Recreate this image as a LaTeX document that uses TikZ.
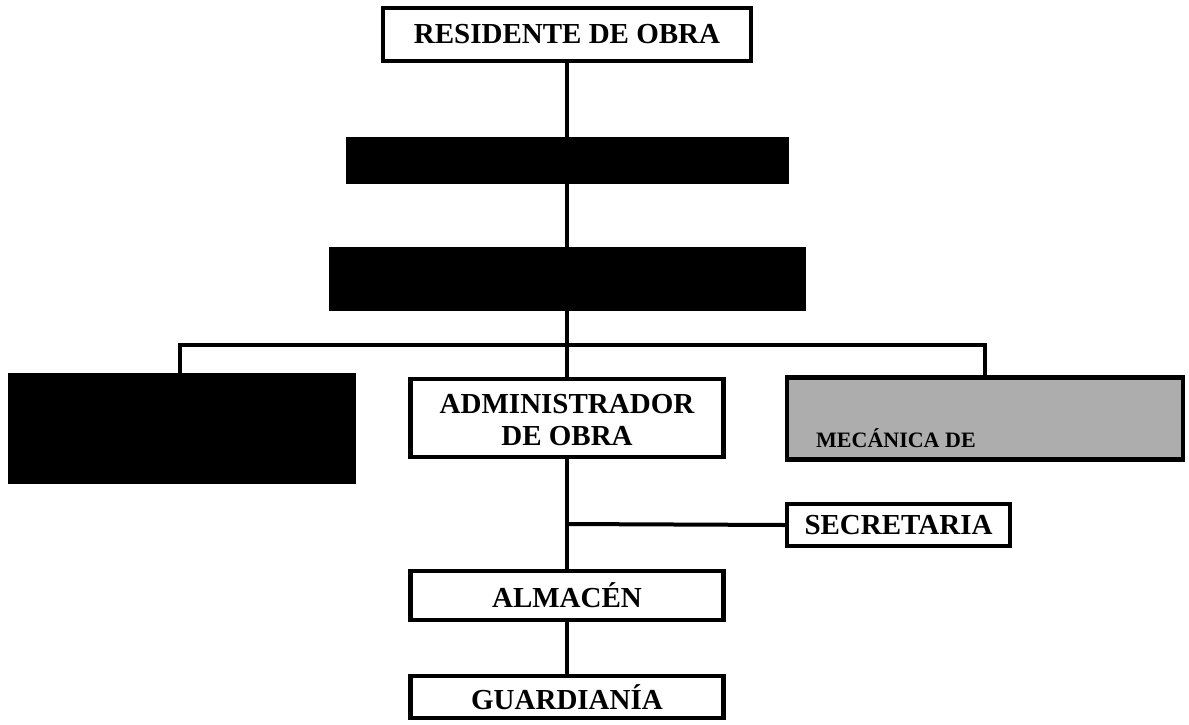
\documentclass[tikz,border=0pt]{standalone}
\usepackage{fontspec}
\setmainfont{Liberation Serif}
\begin{document}
\begin{tikzpicture}[x=1pt,y=-1pt,
  box/.style={draw=black, line width=4.5pt, fill=white, rectangle, inner sep=0pt, align=center,
    font=\fontsize{29}{32}\selectfont\bfseries},
  darkbox/.style={draw=black, line width=3pt, fill=black, rectangle, inner sep=0pt},
  link/.style={line width=4pt, draw=black}]
\useasboundingbox (0,0) rectangle (1189,724);
\node[box, minimum width=368pt, minimum height=53pt] (res) at (567,34.5) {RESIDENTE DE OBRA};
\node[darkbox, minimum width=440pt, minimum height=44pt] (b1) at (567,160) {};
\node[darkbox, minimum width=474pt, minimum height=61pt] (b2) at (567,278.5) {};
\node[darkbox, minimum width=345pt, minimum height=108pt] (lft) at (181.5,428) {};
\node[box, minimum width=313pt, minimum height=78pt] (adm) at (567,418)
  {\raisebox{-5pt}[\height][\depth]{\begin{tabular}{@{}c@{}}ADMINISTRADOR\\DE OBRA\end{tabular}}};
\node[box, fill=black!32, minimum width=396pt, minimum height=82pt] (rgt) at (985,418.5) {};
\node[anchor=base west, inner sep=0pt, font=\fontsize{22}{24}\selectfont\bfseries] (rgtt) at (816,447) {MECÁNICA DE};
\node[box, minimum width=223pt, minimum height=42pt] (sec) at (898.5,525) {SECRETARIA};
\node[box, minimum width=313pt, minimum height=49pt] (alm) at (567,595.5) {ALMACÉN};
\node[box, minimum width=313pt, minimum height=42pt] (gua) at (567,697) {GUARDIANÍA};
\coordinate (busL) at (180,345);
\coordinate (busR) at (985,345);
\coordinate (j) at (567,524);
\draw[link] (res.south) -- (b1.north);
\draw[link] (b1.south) -- (b2.north);
\draw[link] (b2.south) -- (adm.north);
\draw[link, line join=miter] (busL |- lft.north) -- (busL) -- (busR) -- (busR |- rgt.north);
\draw[link] (adm.south) -- (alm.north);
\draw[link] (j) -- (sec.west);
\draw[link] (alm.south) -- (gua.north);
\end{tikzpicture}
\end{document}
